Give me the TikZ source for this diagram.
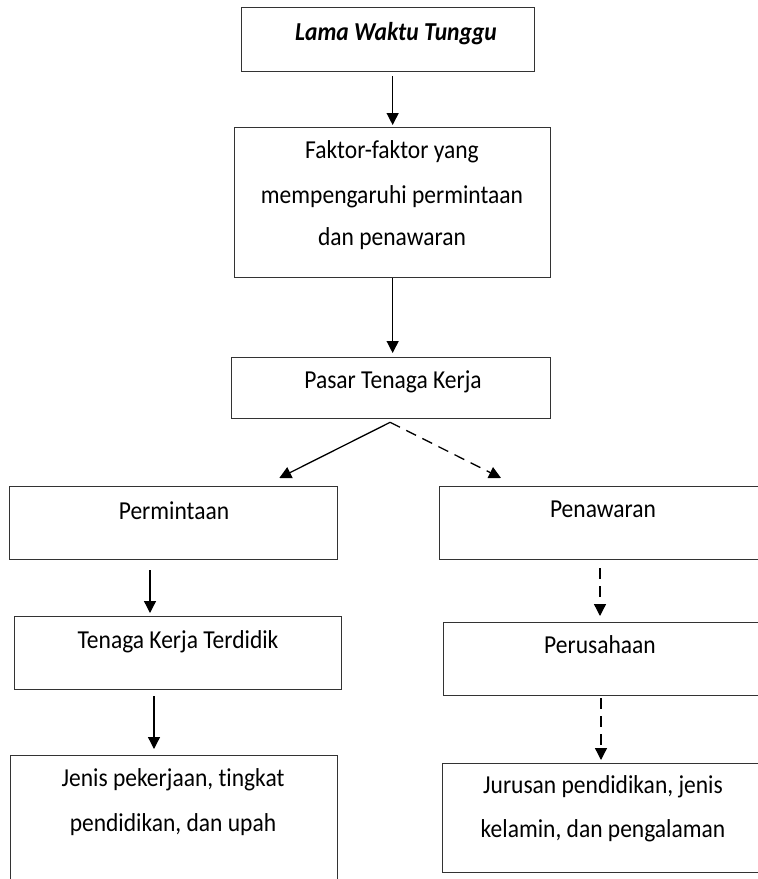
\documentclass[tikz,border=0pt]{standalone}
\usepackage{fontspec}
\setmainfont{Carlito}[Ligatures={NoCommon,NoContextual}]
\usetikzlibrary{arrows.meta,calc}
\newcommand{\vtx}[1]{\scalebox{1}[1.1]{#1}}
\begin{document}
\begin{tikzpicture}[x=1pt,y=-1pt,
  box/.style={draw=black!80, line width=1.3pt, rectangle, inner sep=0pt, anchor=north west},
  lbl/.style={anchor=base, inner sep=0pt, font=\fontsize{23.5}{28}\selectfont},
  arr/.style={line width=1.3pt, -{Triangle[width=12pt,length=12pt]}},
  darr/.style={arr, dash pattern=on 11pt off 7pt}]
\useasboundingbox (0,0) rectangle (758,879);
\clip (0,0) rectangle (758,879);
% boxes
\node[box, minimum width=293pt, minimum height=64pt] (b1) at (241,7) {};
\node[box, minimum width=316pt, minimum height=150pt] (b2) at (234,127) {};
\node[box, minimum width=319pt, minimum height=61pt] (b3) at (231,357) {};
\node[box, minimum width=328pt, minimum height=73pt] (perm) at (9,486) {};
\node[box, minimum width=340pt, minimum height=73pt] (pena) at (439,486) {};
\node[box, minimum width=327pt, minimum height=73pt] (ten) at (14,616) {};
\node[box, minimum width=330pt, minimum height=73pt] (peru) at (443,622) {};
\node[box, minimum width=327pt, minimum height=140pt] (jen) at (10,755) {};
\node[box, minimum width=330pt, minimum height=109pt] (jur) at (442,763) {};
% texts
\node[lbl, font=\fontsize{23.5}{28}\selectfont\bfseries\itshape] (t1) at (396,40) {\vtx{Lama Waktu Tunggu}};
\node[lbl] (t2a) at (392,158) {\vtx{Faktor-faktor yang}};
\node[lbl] (t2b) at (392,203) {\vtx{mempengaruhi permintaan}};
\node[lbl] (t2c) at (392,245) {\vtx{dan penawaran}};
\node[lbl] (t3) at (393,388) {\vtx{Pasar Tenaga Kerja}};
\node[lbl] (t4) at (174,519) {\vtx{Permintaan}};
\node[lbl] (t5) at (603,517) {\vtx{Penawaran}};
\node[lbl] (t6) at (178,648) {\vtx{Tenaga Kerja Terdidik}};
\node[lbl] (t7) at (600,653) {\vtx{Perusahaan}};
\node[lbl] (t8a) at (173,786) {\vtx{Jenis pekerjaan, tingkat}};
\node[lbl] (t8b) at (173,831) {\vtx{pendidikan, dan upah}};
\node[lbl] (t9a) at (603,793) {\vtx{Jurusan pendidikan, jenis}};
\node[lbl] (t9b) at (603,837) {\vtx{kelamin, dan pengalaman}};
% connectors
\draw[arr] ($(b2.north |- b1.south)+(0,4)$) -- ($(b2.north)+(0,-2)$);
\draw[arr] (b2.south) -- ($(b2.south |- b3.north)+(0,-4)$);
\draw[arr] ($(b3.south)+(-1,3)$) -- ($(perm.north east)+(-59,-8)$);
\draw[darr] ($(b3.south)+(-1,3)$) -- ($(pena.north west)+(62,-8)$);
\draw[arr] ($(perm.south west)+(141,10)$) -- ($(ten.north west)+(136,-3)$);
\draw[darr] ($(pena.south west)+(161,8)$) -- ($(peru.north west)+(157,-6)$);
\draw[arr] ($(ten.south west)+(140,6)$) -- ($(jen.north west)+(144,-6)$);
\draw[darr] ($(peru.south west)+(158,2)$) -- ($(jur.north west)+(159,-3)$);
\end{tikzpicture}
\end{document}
